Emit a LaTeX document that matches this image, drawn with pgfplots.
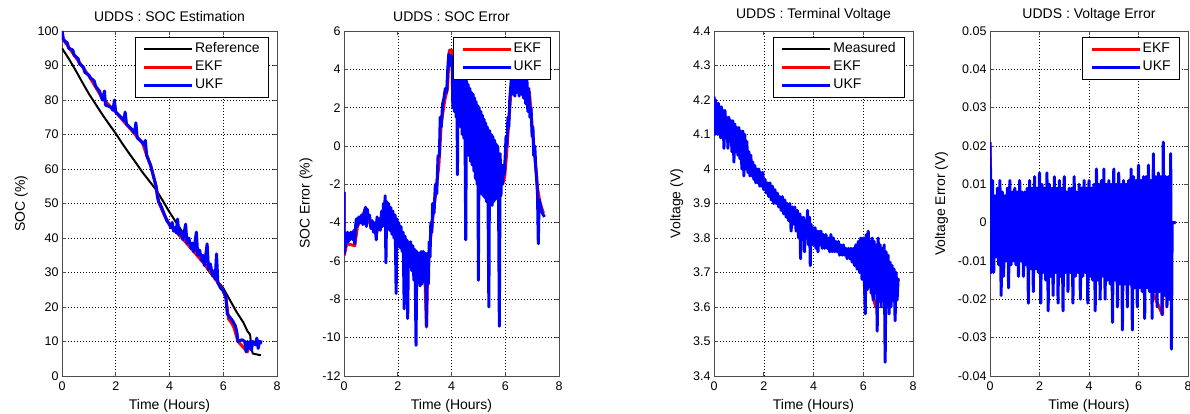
\documentclass[border=0pt]{standalone}
\usepackage{fontspec}
\setmainfont{Liberation Sans}
\usepackage{pgfplots}
\pgfplotsset{compat=1.18}

\pgfplotsset{
  mat/.style={
    scale only axis, anchor=south west,
    height=345pt,
    xmin=0, xmax=8, xtick={0,2,4,6,8},
    grid=major,
    grid style={black, line width=0.5pt, dash pattern=on 0.8pt off 2.2pt},
    axis line style={black!70, line width=0.7pt},
    tick style={black!70, line width=0.6pt},
    tick align=inside, major tick length=4pt,
    ticklabel style={font=\fontsize{12.5}{14}\selectfont},
    xticklabel style={yshift=-2pt},
    label style={font=\fontsize{14}{16}\selectfont},
    title style={font=\fontsize{14}{16}\selectfont},
    xlabel={Time (Hours)},
    xlabel style={yshift=-2pt},
    ylabel style={yshift=3pt},
    /pgf/number format/assume math mode=true,
    scaled y ticks=false,
    yticklabel style={/pgf/number format/fixed, /pgf/number format/precision=2},
    legend style={at={(1,1)}, anchor=north east, xshift=-8pt, yshift=-6pt,
      draw=black, line width=0.6pt, fill=white,
      font=\fontsize{14}{16}\selectfont, cells={anchor=west},
      nodes={text height=11pt, text depth=4pt, inner sep=1.5pt},
      row sep=0pt, inner xsep=7.5pt, inner ysep=3pt},
    legend image code/.code={\draw[#1] (0pt,0pt) -- (48pt,0pt);},
    every axis plot/.append style={line width=3pt, line join=round},
  }
}

\begin{document}
\begin{tikzpicture}
\path[use as bounding box] (0pt,0pt) rectangle (1190pt,414pt);

% ---- SOC estimation
\begin{axis}[mat, at={(62pt,38pt)}, width=215pt,
  ymin=0, ymax=100, ytick={0,10,20,30,40,50,60,70,80,90,100},
  ylabel={SOC (\%)}, title={UDDS : SOC Estimation}]
\addplot[black, line width=2pt] coordinates {(0,95) (0.25,92) (0.5,88.7) (0.75,85.2)
  (1,81.8) (1.25,78.8) (1.5,75.8) (1.75,73) (2,70.3) (2.25,67.3) (2.5,64.5) (2.75,61.8)
  (3,59) (3.25,56.5) (3.5,54) (3.75,50.8) (4,47.5) (4.25,44.5) (4.5,41.5) (4.75,38.5)
  (5,35.5) (5.25,32.8) (5.5,30) (5.75,27.8) (6,25.5) (6.25,22) (6.5,18.5) (6.75,15.5)
  (6.9,13) (7.0,12) (7.05,8) (7.1,6.5) (7.4,6)};
\addlegendentry{Reference}
\addplot[red] coordinates {(0,100) (0.05,97.5) (0.5,92.5) (1,87) (1.5,80.5) (2,76.5)
  (2.5,72) (3,67.5) (3.15,64) (3.3,61) (3.5,55) (3.6,50.3) (3.8,46.8) (4,43.8)
  (4.5,39.7) (5,35.2) (5.5,30.6) (6,24.7) (6.1,22.5) (6.2,16.5) (6.3,15.5) (6.4,14)
  (6.55,10) (6.9,7) (7,9.5) (7.45,9.6)};
\addlegendentry{EKF}
\addplot[blue] coordinates {(0,100) (0.05,97.5) (0.2,96.5) (0.25,95) (0.4,94.5)
  (0.45,93) (0.6,92) (0.65,90.5) (0.8,89.5) (0.85,88) (1.0,87.2) (1.05,86.5) (1.2,85.5)
  (1.25,84) (1.4,82.5) (1.5,80) (1.58,82.6) (1.62,78.5) (1.8,78) (1.9,77) (1.95,80)
  (2.0,76.5) (2.2,75) (2.3,74) (2.35,76.5) (2.4,73) (2.6,71.5) (2.7,70.5) (2.75,73.4)
  (2.8,69) (2.95,68) (3.05,67) (3.1,68.3) (3.15,64) (3.3,61) (3.4,58) (3.5,55)
  (3.55,52) (3.6,50.5) (3.7,49) (3.8,47) (3.9,45) (4.0,44) (4.05,43) (4.1,44.5)
  (4.15,42) (4.2,43) (4.25,41.5) (4.3,45.5) (4.35,41) (4.42,42) (4.5,39.5) (4.6,44)
  (4.65,38.5) (4.72,40) (4.8,37) (4.85,38.5) (4.9,36) (5.0,41.7) (5.05,35) (5.12,36.5)
  (5.2,33.5) (5.25,35) (5.3,32) (5.4,38.3) (5.45,31) (5.52,32.5) (5.6,29) (5.65,30.5)
  (5.7,28) (5.75,35.4) (5.8,27) (5.9,25.5) (6.0,24.7) (6.1,22.8) (6.15,18) (6.25,17)
  (6.35,16) (6.45,14.5) (6.5,13) (6.55,10) (6.7,10.5) (6.8,10) (6.85,7) (6.9,10)
  (6.95,8) (7.0,10) (7.05,7.5) (7.1,10) (7.2,9) (7.25,11) (7.3,8) (7.35,10) (7.45,9.8)};
\addlegendentry{UKF}
\end{axis}

% ---- SOC error
\begin{axis}[mat, at={(344pt,38pt)}, width=215pt,
  ymin=-12, ymax=6, ytick={-12,-10,-8,-6,-4,-2,0,2,4,6},
  ylabel={SOC Error (\%)}, title={UDDS : SOC Error}]
\addplot[red] coordinates {(0,-2.4) (0.01,-5.7) (0.1,-5.1) (0.4,-5.2) (0.5,-4.2)
  (0.8,-3.3) (1.0,-4.2) (1.2,-4.6) (1.5,-3.2) (2.0,-4.5) (2.5,-5.8) (3.0,-6.3)
  (3.07,-9.45) (3.11,-6.5) (3.25,-4.4) (3.4,-2.6) (3.53,-1.0) (3.62,1.2) (3.75,2.4)
  (3.85,3.0) (3.92,5.0) (4.02,5.0) (4.1,4.4) (4.5,3.0) (5.0,1.0) (5.5,-1.0) (5.9,-2.0)
  (5.98,-1.6) (6.05,-0.4) (6.12,1.0) (6.2,2.6) (6.3,3.5) (6.5,3.6) (6.55,5.6) (6.6,3.2)
  (6.9,2.8) (7.0,1.0) (7.2,-2.2) (7.3,-3.0) (7.42,-3.5)};
\addlegendentry{EKF}
\addplot[blue] coordinates {(0,-2.4) (0.01,-5.6) (0.03,-4.5) (0.05,-5.3) (0.08,-4.6)
  (0.1,-5.0) (0.13,-4.5) (0.16,-5.0) (0.19,-4.6) (0.22,-4.9) (0.25,-4.5) (0.28,-4.8)
  (0.31,-4.5) (0.34,-4.9) (0.37,-4.4) (0.4,-5.1) (0.43,-4.2)
  (0.46,-3.8) (0.5,-4.2) (0.55,-3.7) (0.6,-4.0) (0.65,-3.6) (0.7,-4.1) (0.75,-3.5)
  (0.8,-3.2) (0.83,-4.2) (0.87,-3.3) (0.9,-3.8) (0.95,-3.6) (1.0,-4.3) (1.05,-3.9)
  (1.1,-4.5) (1.15,-4.0) (1.2,-4.9) (1.23,-3.7) (1.27,-4.3) (1.3,-3.8) (1.35,-4.4)
  (1.4,-3.4) (1.43,-4.2) (1.47,-3.0) (1.5,-4.0) (1.53,-2.6) (1.56,-6.1) (1.59,-2.9)
  (1.62,-4.2) (1.66,-3.0) (1.7,-4.4) (1.74,-3.2) (1.78,-4.6) (1.82,-3.4) (1.86,-4.8)
  (1.9,-3.6) (1.94,-7.7) (1.97,-3.8) (2.0,-5.0) (2.04,-4.0) (2.08,-5.3) (2.12,-4.2)
  (2.16,-5.5) (2.2,-4.5) (2.24,-8.5) (2.27,-4.7) (2.31,-6.0) (2.34,-4.9) (2.37,-9.0)
  (2.4,-5.0) (2.44,-6.3) (2.48,-5.0) (2.52,-6.5) (2.56,-5.2) (2.6,-7.0) (2.64,-5.4)
  (2.68,-10.4) (2.71,-5.5) (2.75,-7.0) (2.79,-5.6) (2.83,-7.3) (2.87,-5.5) (2.91,-7.2)
  (2.95,-5.5) (2.99,-7.0) (3.03,-5.6) (3.07,-9.4) (3.1,-5.6) (3.14,-7.2) (3.17,-5.0)
  (3.2,-5.8) (3.23,-4.0) (3.27,-4.5) (3.3,-3.0) (3.35,-3.5) (3.4,-2.0) (3.45,-2.5)
  (3.5,-0.5) (3.55,-0.5) (3.58,1.5) (3.62,1.0) (3.67,2.2) (3.72,2.5) (3.77,3.0)
  (3.82,2.8) (3.86,4.0) (3.9,4.8) (3.94,4.2) (3.98,4.7)
  (4.02,4.6) (4.05,2.0) (4.08,4.6) (4.11,1.8) (4.14,4.5) (4.17,1.5) (4.20,4.4)
  (4.22,-1.5) (4.25,4.3) (4.28,1.2) (4.31,4.1) (4.34,1.0) (4.37,4.0) (4.40,0.6)
  (4.43,3.8) (4.46,0.4) (4.49,3.6) (4.53,-4.9) (4.56,3.4) (4.59,-0.2) (4.62,3.2)
  (4.65,-0.5) (4.68,3.0) (4.71,-0.8) (4.74,2.8) (4.77,-1.0) (4.80,2.7) (4.83,-1.3)
  (4.86,2.5) (4.89,-1.7) (4.92,2.3) (4.95,-2.0) (4.98,2.1) (5.00,-7.0) (5.03,2.0)
  (5.06,-2.3) (5.09,1.8) (5.12,-2.5) (5.15,1.6) (5.18,-2.6) (5.21,1.4) (5.24,-2.7)
  (5.27,1.2) (5.30,-2.9) (5.33,1.0) (5.36,-3.0) (5.39,-8.4) (5.42,0.8) (5.45,-3.0)
  (5.48,0.6) (5.51,-3.1) (5.54,0.5) (5.57,-2.9) (5.60,0.3) (5.63,-2.8) (5.66,0.1)
  (5.69,-2.7) (5.72,0.0) (5.75,-2.6) (5.78,-9.4) (5.81,-0.4) (5.84,-2.6) (5.87,-1.0)
  (5.9,-2.0) (5.93,-1.0) (5.96,-1.5) (6.0,-0.5) (6.03,0.5) (6.06,0.0) (6.1,1.5)
  (6.13,1.0) (6.17,2.5) (6.2,3.0)
  (6.24,3.8) (6.28,2.7) (6.32,3.9) (6.36,2.6) (6.4,4.3) (6.44,2.8) (6.48,3.8)
  (6.52,2.6) (6.56,5.0) (6.6,2.7) (6.64,3.7) (6.68,2.5) (6.72,3.6) (6.76,2.2)
  (6.8,3.8) (6.84,1.8) (6.88,3.0) (6.92,1.5)
  (6.96,2.0) (7.0,0.5) (7.03,1.0) (7.06,-0.5) (7.1,0.0) (7.13,-1.0) (7.16,-1.5)
  (7.2,-2.5) (7.23,-5.1) (7.26,-2.8) (7.3,-3.0) (7.34,-3.3) (7.38,-3.5) (7.42,-3.6)
  (7.46,-3.7)};
\addlegendentry{UKF}
\end{axis}

% ---- Terminal voltage
\begin{axis}[mat, at={(714pt,38pt)}, width=199pt,
  ymin=3.4, ymax=4.4, ytick={3.4,3.5,3.6,3.7,3.8,3.9,4.0,4.1,4.2,4.3,4.4},
  ylabel={Voltage (V)}, title={UDDS : Terminal Voltage}]
\addplot[black, line width=2pt] coordinates {(0,4.15) (1,4.07) (2,3.96) (3,3.87)
  (4,3.8) (5,3.77) (6,3.74) (7,3.67) (7.45,3.68)};
\addlegendentry{Measured}
\addplot[red] coordinates {(0,4.16) (1,4.07) (2,3.96) (3,3.87) (4,3.8) (5,3.77)
  (6,3.74) (6.5,3.60) (7,3.67) (7.45,3.68)};
\addlegendentry{EKF}
\addplot[blue] coordinates {(0.00,4.21) (0.03,4.10) (0.06,4.20) (0.09,4.12) (0.12,4.19)
  (0.15,4.10) (0.18,4.19) (0.21,4.11) (0.24,4.18) (0.27,4.09) (0.30,4.18) (0.33,4.10)
  (0.36,4.17) (0.40,4.06) (0.44,4.17) (0.48,4.09) (0.52,4.15) (0.56,4.06) (0.60,4.15)
  (0.64,4.08) (0.68,4.14) (0.72,4.05) (0.76,4.14) (0.80,4.02) (0.84,4.13) (0.88,4.05)
  (0.92,4.12) (0.96,4.04) (1.00,4.12) (1.04,4.03) (1.08,4.11) (1.12,4.00) (1.16,4.11)
  (1.20,3.98) (1.24,4.10) (1.28,4.00) (1.32,4.08) (1.36,3.99) (1.40,4.05) (1.44,3.98)
  (1.48,4.04) (1.52,3.98) (1.56,4.02) (1.60,3.97) (1.64,4.01) (1.68,3.96) (1.72,4.00)
  (1.76,3.96) (1.80,4.00) (1.84,3.95) (1.88,3.99) (1.92,3.95) (1.96,3.99) (2.00,3.94)
  (2.05,3.97) (2.10,3.93) (2.15,3.96) (2.20,3.92) (2.25,3.96) (2.30,3.91) (2.35,3.95)
  (2.40,3.90) (2.45,3.94) (2.50,3.90) (2.55,3.93) (2.60,3.89) (2.65,3.92) (2.70,3.88)
  (2.75,3.92) (2.80,3.87) (2.85,3.91) (2.90,3.86) (2.95,3.90) (3.00,3.85) (3.05,3.90)
  (3.10,3.82) (3.15,3.89) (3.20,3.84) (3.25,3.89) (3.30,3.82) (3.35,3.88) (3.40,3.80)
  (3.45,3.87) (3.48,3.74) (3.52,3.86) (3.56,3.80) (3.60,3.86) (3.64,3.76) (3.68,3.85)
  (3.72,3.80) (3.76,3.88) (3.80,3.78) (3.84,3.86) (3.87,3.72) (3.90,3.84) (3.94,3.78)
  (3.98,3.83) (4.02,3.78) (4.06,3.83) (4.10,3.77) (4.14,3.82) (4.18,3.76) (4.22,3.82)
  (4.26,3.78) (4.30,3.82) (4.35,3.77) (4.40,3.81) (4.45,3.77) (4.50,3.81) (4.55,3.77)
  (4.60,3.80) (4.65,3.76) (4.70,3.81) (4.75,3.76) (4.80,3.80) (4.85,3.76) (4.90,3.79)
  (4.95,3.76) (5.00,3.79) (5.05,3.75) (5.10,3.78) (5.15,3.75) (5.20,3.78) (5.25,3.75)
  (5.30,3.77) (5.35,3.74) (5.40,3.77) (5.45,3.74) (5.50,3.77) (5.55,3.73) (5.60,3.77)
  (5.65,3.72) (5.70,3.78) (5.75,3.71) (5.80,3.79) (5.85,3.70) (5.90,3.80) (5.95,3.68)
  (6.00,3.80) (6.05,3.66) (6.08,3.58) (6.12,3.81) (6.16,3.65) (6.20,3.82) (6.24,3.66)
  (6.28,3.79) (6.32,3.64) (6.36,3.80) (6.40,3.62) (6.44,3.79) (6.48,3.64) (6.52,3.78)
  (6.56,3.53) (6.60,3.80) (6.64,3.62) (6.68,3.78) (6.72,3.60) (6.76,3.77) (6.80,3.62)
  (6.84,3.78) (6.88,3.44) (6.92,3.76) (6.96,3.60) (7.00,3.75) (7.04,3.58) (7.08,3.73)
  (7.12,3.60) (7.16,3.72) (7.20,3.62) (7.24,3.71) (7.28,3.56) (7.32,3.70) (7.36,3.62)
  (7.40,3.68) (7.45,3.68)};
\addlegendentry{UKF}
\end{axis}

% ---- Voltage error
\begin{axis}[mat, at={(990pt,38pt)}, width=198pt,
  ymin=-0.04, ymax=0.05,
  ytick={-0.04,-0.03,-0.02,-0.01,0,0.01,0.02,0.03,0.04,0.05},
  ylabel={Voltage Error (V)}, title={UDDS : Voltage Error}]
\addplot[red] coordinates {(0,0.02) (0.1,-0.01) (1,0.008) (2,-0.01) (3,0.008)
  (4,-0.01) (5,0.008) (6,-0.01) (6.97,-0.024) (7.0,0.01) (7.12,-0.018) (7.3,0.0)
  (7.5,0)};
\addlegendentry{EKF}
\addplot[blue] coordinates {(0.00,0.021) (0.05,-0.013) (0.10,0.011) (0.15,-0.013)
  (0.20,0.007) (0.25,-0.009) (0.30,0.009) (0.35,-0.011) (0.40,0.011) (0.45,-0.019)
  (0.50,0.008) (0.55,-0.014) (0.60,0.007) (0.65,-0.010) (0.70,0.009) (0.75,-0.017)
  (0.80,0.011) (0.85,-0.011) (0.90,0.008) (0.95,-0.010) (1.00,0.009) (1.05,-0.011)
  (1.10,0.008) (1.15,-0.014) (1.20,0.011) (1.25,-0.010) (1.30,0.008) (1.35,-0.014)
  (1.40,0.008) (1.45,-0.011) (1.50,0.009) (1.55,-0.021) (1.60,0.011) (1.65,-0.012)
  (1.70,0.009) (1.75,-0.018) (1.80,0.012) (1.85,-0.012) (1.90,0.009) (1.95,-0.013)
  (2.00,0.013) (2.05,-0.021) (2.10,0.010) (2.15,-0.013) (2.20,0.009) (2.25,-0.015)
  (2.30,0.013) (2.35,-0.023) (2.40,0.010) (2.45,-0.014) (2.50,0.009) (2.55,-0.019)
  (2.60,0.012) (2.65,-0.013) (2.70,0.009) (2.75,-0.021) (2.80,0.011) (2.85,-0.014)
  (2.90,0.009) (2.95,-0.023) (3.00,0.012) (3.05,-0.013) (3.10,0.008) (3.15,-0.018)
  (3.20,0.009) (3.25,-0.013) (3.30,0.009) (3.35,-0.021) (3.40,0.012) (3.45,-0.014)
  (3.50,0.008) (3.55,-0.013) (3.60,0.010) (3.65,-0.020) (3.70,0.009) (3.75,-0.014)
  (3.80,0.011) (3.85,-0.013) (3.90,0.009) (3.95,-0.021) (4.00,0.011) (4.05,-0.014)
  (4.10,0.009) (4.15,-0.015) (4.20,0.010) (4.25,-0.023) (4.30,0.014) (4.35,-0.015)
  (4.40,0.010) (4.45,-0.020) (4.50,0.011) (4.55,-0.014) (4.60,0.014) (4.65,-0.020)
  (4.70,0.010) (4.75,-0.015) (4.80,0.011) (4.85,-0.016) (4.90,0.010) (4.95,-0.026)
  (5.00,0.014) (5.05,-0.015) (5.10,0.010) (5.15,-0.022) (5.20,0.013) (5.25,-0.016)
  (5.30,0.010) (5.35,-0.028) (5.40,0.011) (5.45,-0.016) (5.50,0.010) (5.55,-0.022)
  (5.60,0.011) (5.65,-0.016) (5.70,0.014) (5.75,-0.028) (5.80,0.012) (5.85,-0.017)
  (5.90,0.011) (5.95,-0.022) (6.00,0.015) (6.05,-0.017) (6.10,0.011) (6.15,-0.018)
  (6.20,0.012) (6.25,-0.025) (6.30,0.012) (6.35,-0.017) (6.40,0.015) (6.45,-0.018)
  (6.50,0.011) (6.55,-0.025) (6.60,0.018) (6.65,-0.018) (6.70,0.012) (6.75,-0.022)
  (6.80,0.013) (6.85,-0.018) (6.90,0.012) (6.95,-0.024) (7.00,0.021) (7.05,-0.019)
  (7.10,0.012) (7.15,-0.022) (7.20,0.012) (7.25,-0.020) (7.30,0.018) (7.33,-0.033)
  (7.36,0.0) (7.5,0.0)};
\addlegendentry{UKF}
\end{axis}
\end{tikzpicture}
\end{document}
